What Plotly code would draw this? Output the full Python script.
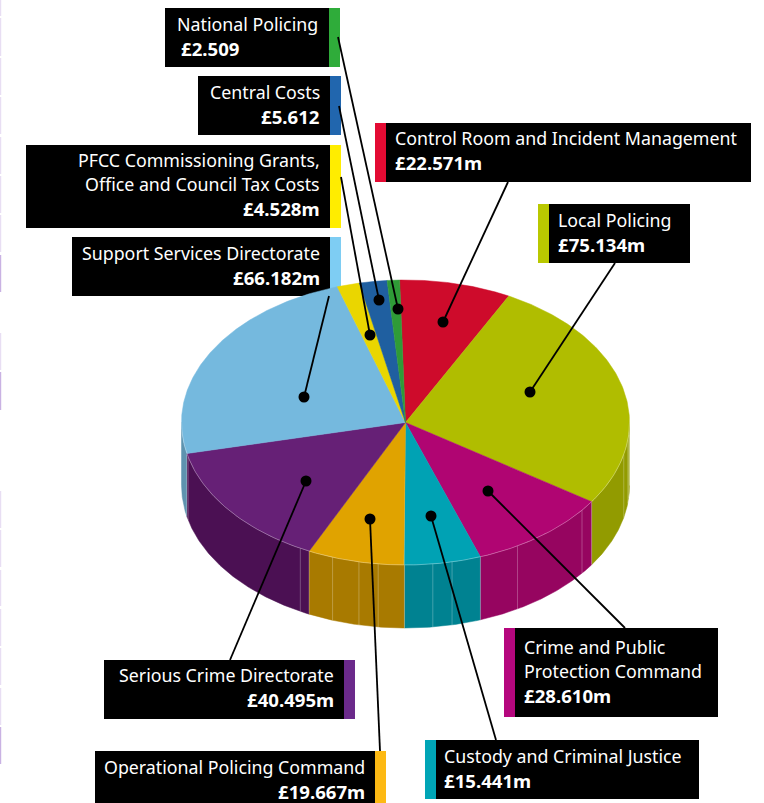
import numpy as np
import plotly.graph_objects as go

# ---- data -------------------------------------------------------------
categories = ["Control Room and Incident Management", "Local Policing",
              "Crime and Public Protection Command", "Custody and Criminal Justice",
              "Operational Policing Command", "Serious Crime Directorate",
              "Support Services Directorate",
              "PFCC Commissioning Grants, Office and Council Tax Costs",
              "Central Costs", "National Policing"]
values = [22.571, 75.134, 28.610, 15.441, 19.667, 40.495, 66.182, 4.528, 5.612, 2.509]
value_labels = ["£22.571m", "£75.134m", "£28.610m", "£15.441m", "£19.667m",
                "£40.495m", "£66.182m", "£4.528m", "£5.612", "£2.509"]
label_lines = [["Control Room and Incident Management"], ["Local Policing"],
               ["Crime and Public", "Protection Command"], ["Custody and Criminal Justice"],
               ["Operational Policing Command"], ["Serious Crime Directorate"],
               ["Support Services Directorate"],
               ["PFCC Commissioning Grants,", "Office and Council Tax Costs"],
               ["Central Costs"], ["National Policing"]]

# ---- styles -----------------------------------------------------------
top_colors = ["#CE0B2B", "#B0BD00", "#B00572", "#00A2B4", "#E0A300",
              "#662076", "#75B9DE", "#EAD600", "#1F5FA0", "#2F9B37"]
side_colors = ["#9A0820", "#929B00", "#960560", "#008291", "#A87A00",
               "#4B1053", "#5E93AF", "#B0A000", "#174878", "#237429"]
bar_colors = ["#E30B33", "#B9C800", "#B5077E", "#00A5B6", "#FDB913",
              "#6B2A8B", "#7ECDF3", "#FFED00", "#2166AE", "#2FAC3A"]
FONT = "Noto Sans"
FS = 17.8
FS_BOLD = 18.6
LH = 24.3

CX, CY, RX, RY, DEPTH = 405.5, 422.5, 224, 142.5, 63
ROT = -1.5
seam_angles = [95, 97, 103, 128, 150, 168, 173, 187, 192, 199, 208, 256]

# box layout: black x0,x1,y0,y1, colour bar x0,x1, text x, anchor, first text y
boxes = [
    (386, 751, 123, 182, 375, 386, 393, "left", 138),
    (549, 690, 204, 263, 538, 549, 556, "left", 220),
    (515, 718, 628, 717, 504, 515, 522, "left", 647),
    (436, 699, 740, 799, 425, 436, 442, "left", 756),
    (95, 375, 751, 803, 375, 386, 367, "right", 767),
    (104, 344, 660, 719, 344, 355, 336, "right", 675),
    (72, 330, 237, 296, 330, 341, 322, "right", 253),
    (26, 330, 145, 228, 330, 341, 322, "right", 160),
    (198, 330, 76, 135, 330, 341, 322, "right", 92),
    (165, 329, 8, 67, 329, 340, 175, "left", 24),
]
leaders = [
    ((508, 182), (443, 322)), ((615, 263), (530, 392)), ((625, 628), (488, 491)),
    ((496, 740), (431, 516)), ((380, 751), (370, 519)), ((230, 660), (306, 481)),
    ((329, 296), (304, 397)), ((341, 177), (370, 335)), ((339, 106), (379, 300)),
    ((338, 37), (398, 309)),
]
edge_marks = [(0, 16, .3), (18, 56, .3), (58, 95, .3), (97, 134, .3), (137, 174, .3),
              (176, 213, .3), (215, 252, .3), (255, 292, .7), (333, 370, .3),
              (372, 410, .7), (491, 528, .3), (530, 567, .3), (570, 606, .3),
              (609, 646, .3), (648, 685, .3), (688, 725, .3), (727, 764, .7)]


def ex(t):
    return CX + RX * np.sin(np.radians(t))


def ey(t):
    return CY - RY * np.cos(np.radians(t))


fig = go.Figure()
fractions = np.array(values) / sum(values) * 360
edges = ROT + np.concatenate([[0], np.cumsum(fractions)])

# side walls (front half only)
for i in range(len(values)):
    a0, a1 = max(edges[i], 90), min(edges[i + 1], 270)
    if a1 <= a0:
        continue
    t = np.linspace(a0, a1, 120)
    x = np.concatenate([ex(t), ex(t[::-1])])
    y = np.concatenate([ey(t), ey(t[::-1]) + DEPTH])
    fig.add_trace(go.Scatter(x=x, y=y, mode="lines", fill="toself", fillcolor=side_colors[i],
                             line=dict(color=side_colors[i], width=0.5), hoverinfo="skip"))

# facet seams on the wall
for s in seam_angles:
    fig.add_trace(go.Scatter(x=[ex(s), ex(s)], y=[ey(s), ey(s) + DEPTH], mode="lines",
                             line=dict(color="rgba(255,255,255,0.25)", width=1), hoverinfo="skip"))
for e in edges:
    if 90 < e < 270:
        fig.add_trace(go.Scatter(x=[ex(e), ex(e)], y=[ey(e), ey(e) + DEPTH], mode="lines",
                                 line=dict(color="rgba(255,255,255,0.25)", width=1), hoverinfo="skip"))

# top face
for i in range(len(values)):
    t = np.linspace(edges[i], edges[i + 1], 150)
    x = np.concatenate([[CX], ex(t), [CX]])
    y = np.concatenate([[CY], ey(t), [CY]])
    fig.add_trace(go.Scatter(x=x, y=y, mode="lines", fill="toself", fillcolor=top_colors[i],
                             line=dict(color=top_colors[i], width=0.5), hoverinfo="skip"))

# pale rim along the front edge
t = np.linspace(90, 270, 300)
fig.add_trace(go.Scatter(x=ex(t), y=ey(t), mode="lines",
                         line=dict(color="rgba(255,255,255,0.3)", width=1), hoverinfo="skip"))

# leader lines and dots
for (start, end) in leaders:
    fig.add_trace(go.Scatter(x=[start[0], end[0]], y=[start[1], end[1]], mode="lines",
                             line=dict(color="black", width=1.8), hoverinfo="skip"))
    fig.add_trace(go.Scatter(x=[end[0]], y=[end[1]], mode="markers",
                             marker=dict(color="black", size=11), hoverinfo="skip"))

shapes = []
annotations = []
for y0, y1, strength in edge_marks:
    shapes.append(dict(type="rect", xref="x", yref="y", x0=0, x1=1.2, y0=y0, y1=y1, layer="below",
                       fillcolor=f"rgba(178,145,215,{strength})", line_width=0))
for i, b in enumerate(boxes):
    bx0, bx1, by0, by1, cx0, cx1, tx, anchor, ty = b
    shapes.append(dict(type="rect", xref="x", yref="y", x0=bx0, x1=bx1, y0=by0, y1=by1,
                       layer="below", fillcolor="black", line_width=0))
    shapes.append(dict(type="rect", xref="x", yref="y", x0=cx0, x1=cx1, y0=by0, y1=by1,
                       layer="below", fillcolor=bar_colors[i], line_width=0))
    rows = label_lines[i] + [f"<b>{value_labels[i]}</b>"]
    for k, row in enumerate(rows):
        is_value = k == len(rows) - 1
        annotations.append(dict(x=tx + (4 if i == 9 and k == 1 else 0), y=ty + k * LH,
                                xref="x", yref="y", text=row,
                                showarrow=False, xanchor=anchor, yanchor="middle", align=anchor,
                                font=dict(family=FONT, size=FS_BOLD if is_value else FS, color="white")))

fig.update_layout(
    width=764, height=803, margin=dict(l=0, r=0, t=0, b=0),
    paper_bgcolor="white", plot_bgcolor="white", showlegend=False,
    xaxis=dict(range=[0, 764], visible=False, fixedrange=True),
    yaxis=dict(range=[803, 0], visible=False, fixedrange=True),
    shapes=shapes, annotations=annotations,
)
fig.write_html("out.html", config={"displayModeBar": False},
               post_script="document.body.style.margin='0';document.body.style.overflow='hidden';")
